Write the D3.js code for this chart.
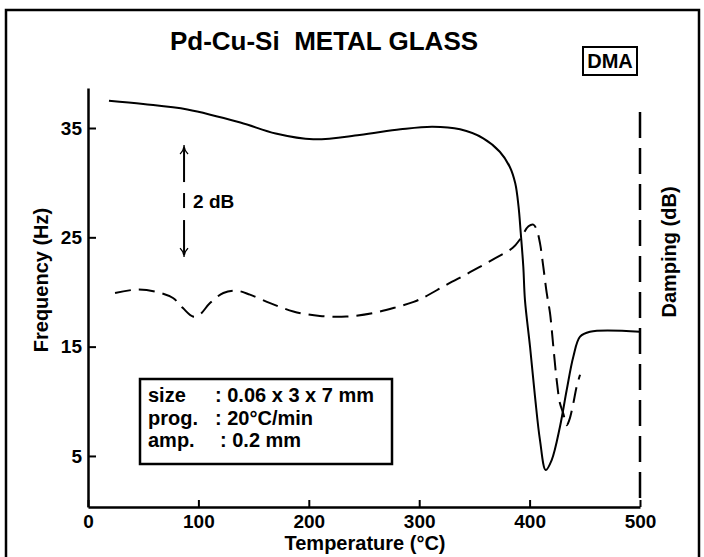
<!DOCTYPE html>
<html>
<head>
<meta charset="utf-8">
<script src="https://cdn.jsdelivr.net/npm/d3@7"></script>
<style>
body { margin:0; background:#fff; }
text { font-family:"Liberation Sans", Arial, sans-serif; font-weight:bold; fill:#000; white-space:pre; }
</style>
</head>
<body>
<svg id="chart" width="704" height="557"></svg>
<script>
"use strict";

// temperature axis (deg C) and frequency axis (Hz)
var tempTicks = [0, 100, 200, 300, 400, 500];
var freqTicks = [5, 15, 25, 35];

// resonance frequency curve (solid)
var freqT  = [19, 50, 90, 138, 170, 204, 246, 283, 312, 337, 358, 373, 382, 387, 390, 392,
	394.3, 395.8, 400.4, 404.9, 409.4, 414.6, 420, 427.5, 433.6, 439.6, 445.7, 454.7, 500];
var freqHz = [37.5, 37.2, 36.7, 35.5, 34.5, 33.97, 34.36, 34.88, 35.12, 34.88, 34.06, 32.83, 31.46, 29.94, 27.8, 25.37,
	22.31, 19.26, 14.99, 10.42, 6.45, 3.71, 4.62, 7.67, 11.03, 14.08, 15.91, 16.36, 16.36];

// damping curve (dashed), relative dB
var dampT  = [24.5, 44, 62, 77, 86, 95, 101, 110.5, 122.6, 134.7, 146.7, 165, 186, 210, 234, 258, 280, 295, 305,
	325, 346, 367, 385, 391, 399, 403.4, 406.4, 409.4, 412.4, 415.5, 418.5, 421.5, 424.5, 427.5, 430.5,
	433.6, 435.9, 439.6, 442.6, 445.7];
var dampDb = [3.82, 3.88, 3.84, 3.73, 3.55, 3.40, 3.43, 3.64, 3.82, 3.86, 3.79, 3.64, 3.49, 3.41, 3.40, 3.46, 3.57, 3.66, 3.75,
	3.97, 4.19, 4.42, 4.63, 4.77, 5.01, 5.04, 4.95, 4.71, 4.29, 3.82, 3.46, 2.86, 2.27, 1.85, 1.67,
	1.46, 1.55, 1.85, 2.15, 2.36];

// test conditions box
var infoKeys = ['size', 'prog.', 'amp.'];
var infoVals = [': 0.06 x 3 x 7 mm', ': 20\u00B0C/min', ': 0.2 mm'];

// 2 dB scale marker
var markT = 87;
var markDb = [4.46, 6.46];

var svg = d3.select('#chart');

var x  = d3.scaleLinear().domain([0, 500]).range([88, 640]);
var yF = d3.scaleLinear().domain([0.33, 38.66]).range([507, 88]);
var yD = d3.scaleLinear().domain([0, 7.05]).range([507, 112]);

//*-*-*-*-*-*-*-*-*-*-*-*-*-*-*-*-*-*-*-*-*-
//	frame + title
//*-*-*-*-*-*-*-*-*-*-*-*-*-*-*-*-*-*-*-*-*-
svg.append('rect')
	.attr('x', 6).attr('y', 10).attr('width', 693).attr('height', 600)
	.attr('fill', 'none').attr('stroke', '#000').attr('stroke-width', 2.5);

svg.append('text')
	.attr('x', 324).attr('y', 50)
	.attr('text-anchor', 'middle')
	.style('font-size', '26px')
	.text('Pd-Cu-Si  METAL GLASS');

svg.append('rect')
	.attr('x', 583).attr('y', 47).attr('width', 54).attr('height', 28)
	.attr('fill', 'none').attr('stroke', '#000').attr('stroke-width', 2);
svg.append('text')
	.attr('x', 610).attr('y', 68)
	.attr('text-anchor', 'middle')
	.style('font-size', '20px')
	.text('DMA');

//*-*-*-*-*-*-*-*-*-*-*-*-*-*-*-*-*-*-*-*-*-
//	axes
//*-*-*-*-*-*-*-*-*-*-*-*-*-*-*-*-*-*-*-*-*-
var xAxis = svg.append('g')
	.attr('transform', 'translate(0,507)')
	.call(d3.axisBottom(x).tickValues(tempTicks).tickSizeInner(-7).tickSizeOuter(0).tickPadding(7.5));

var yAxis = svg.append('g')
	.attr('transform', 'translate(88,0)')
	.call(d3.axisLeft(yF).tickValues(freqTicks).tickSizeInner(-8).tickSizeOuter(0).tickPadding(6));

[xAxis, yAxis].forEach(function(a)
{
	a.select('.domain').attr('stroke-width', 2.5);
	a.selectAll('.tick line').attr('stroke-width', 2);
	a.selectAll('.tick text')
		.attr('fill', '#000')
		.style('font-family', '"Liberation Sans", Arial, sans-serif')
		.style('font-weight', 'bold')
		.style('font-size', '19px');
});

// damping axis is just a dashed line on the right
svg.append('line')
	.attr('x1', x(500)).attr('x2', x(500))
	.attr('y1', yD(7.05)).attr('y2', yD(0))
	.attr('stroke', '#000').attr('stroke-width', 2.5)
	.attr('stroke-dasharray', '26,10');

svg.append('text')
	.attr('x', 365).attr('y', 550)
	.attr('text-anchor', 'middle')
	.style('font-size', '20px')
	.text('Temperature (\u00B0C)');

svg.append('text')
	.attr('transform', 'translate(47.5,280) rotate(-90)')
	.attr('text-anchor', 'middle')
	.style('font-size', '20px')
	.text('Frequency (Hz)');

svg.append('text')
	.attr('transform', 'translate(676,252) rotate(-90)')
	.attr('text-anchor', 'middle')
	.style('font-size', '20px')
	.text('Damping (dB)');

//*-*-*-*-*-*-*-*-*-*-*-*-*-*-*-*-*-*-*-*-*-
//	curves
//*-*-*-*-*-*-*-*-*-*-*-*-*-*-*-*-*-*-*-*-*-
var freqLine = d3.line()
	.x(function(d){ return x(d[0]); })
	.y(function(d){ return yF(d[1]); })
	.curve(d3.curveCatmullRom.alpha(0.5));

var dampLine = d3.line()
	.x(function(d){ return x(d[0]); })
	.y(function(d){ return yD(d[1]); })
	.curve(d3.curveCatmullRom.alpha(0.5));

svg.append('path')
	.datum(d3.zip(freqT, freqHz))
	.attr('d', freqLine)
	.attr('fill', 'none').attr('stroke', '#000').attr('stroke-width', 2);

svg.append('path')
	.datum(d3.zip(dampT, dampDb))
	.attr('d', dampLine)
	.attr('fill', 'none').attr('stroke', '#000').attr('stroke-width', 2)
	.attr('stroke-dasharray', '16,8');

//*-*-*-*-*-*-*-*-*-*-*-*-*-*-*-*-*-*-*-*-*-
//	2 dB marker
//*-*-*-*-*-*-*-*-*-*-*-*-*-*-*-*-*-*-*-*-*-
var mx = x(markT);
var mTop = yD(markDb[1]), mBot = yD(markDb[0]);
var mark = svg.append('g').attr('class', 'mark');
// line broken into pieces around the label
[[mTop + 3, mTop + 37], [mTop + 48, mTop + 63], [mTop + 75, mBot - 3]].forEach(function(s)
{
	mark.append('line')
		.attr('x1', mx).attr('x2', mx).attr('y1', s[0]).attr('y2', s[1])
		.attr('stroke', '#000').attr('stroke-width', 2);
});
mark.append('path')
	.attr('d', 'M' + (mx - 4) + ',' + (mTop + 9) + 'Q' + mx + ',' + (mTop + 5) + ' ' + mx + ',' + mTop +
		'Q' + mx + ',' + (mTop + 5) + ' ' + (mx + 4) + ',' + (mTop + 9))
	.attr('fill', 'none').attr('stroke', '#000').attr('stroke-width', 1.3);
mark.append('path')
	.attr('d', 'M' + (mx - 4) + ',' + (mBot - 9) + 'Q' + mx + ',' + (mBot - 5) + ' ' + mx + ',' + mBot +
		'Q' + mx + ',' + (mBot - 5) + ' ' + (mx + 4) + ',' + (mBot - 9))
	.attr('fill', 'none').attr('stroke', '#000').attr('stroke-width', 1.3);
mark.append('text')
	.attr('x', mx + 9).attr('y', mTop + 63)
	.style('font-size', '19px')
	.text('2 dB');

//*-*-*-*-*-*-*-*-*-*-*-*-*-*-*-*-*-*-*-*-*-
//	conditions box
//*-*-*-*-*-*-*-*-*-*-*-*-*-*-*-*-*-*-*-*-*-
var info = svg.append('g').attr('class', 'info');
info.append('rect')
	.attr('x', 140).attr('y', 379).attr('width', 252).attr('height', 85)
	.attr('fill', '#fff').attr('stroke', '#000').attr('stroke-width', 2.5);
info.selectAll('text.key')
	.data(infoKeys).enter()
	.append('text')
		.attr('class', 'key')
		.attr('x', 148)
		.attr('y', function(d, i){ return 402 + i * 22.5; })
		.style('font-size', '20px')
		.text(function(d){ return d; });
info.selectAll('text.val')
	.data(infoVals).enter()
	.append('text')
		.attr('class', 'val')
		.attr('x', function(d, i){ return i == 2 ? 220 : 215; })
		.attr('y', function(d, i){ return 402 + i * 22.5; })
		.style('font-size', '20px')
		.text(function(d){ return d; });
</script>
</body>
</html>
